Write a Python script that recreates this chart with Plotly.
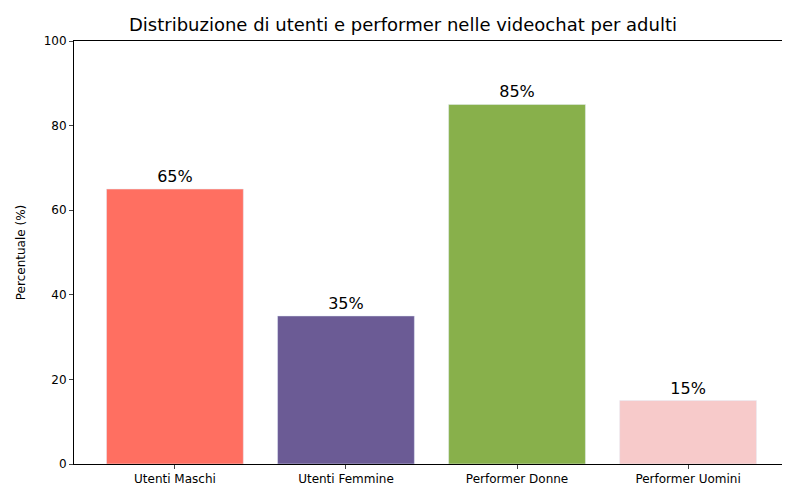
import plotly.graph_objects as go

categories = ["Utenti Maschi", "Utenti Femmine", "Performer Donne", "Performer Uomini"]
values = [65, 35, 85, 15]
colors = ["#FF6F61", "#6B5B95", "#88B04B", "#F7CACA"]

fig = go.Figure(go.Bar(
    x=list(range(len(categories))), y=values, marker_color=colors, width=0.8,
    text=[f"{v}%" for v in values], textposition="outside",
    textfont=dict(size=16, color="black"), cliponaxis=False))
fig.update_layout(
    width=790, height=490, plot_bgcolor="white", paper_bgcolor="white",
    margin=dict(l=66, r=9, t=33, b=34),
    font=dict(family="DejaVu Sans", color="black", size=12),
    title=dict(text="Distribuzione di utenti e performer nelle videochat per adulti",
               x=0.5, xanchor="center", y=0.965, yanchor="middle", font=dict(size=18)),
    showlegend=False)
fig.update_xaxes(range=[-0.59, 3.59], tickvals=list(range(4)), ticktext=categories,
                 showline=True, linecolor="black", mirror=True, ticks="outside",
                 ticklen=4, showgrid=False)
fig.update_yaxes(range=[0, 100], dtick=20, showline=True, linecolor="black", mirror=True,
                 ticks="outside", ticklen=4, showgrid=False, zeroline=False,
                 title=dict(text="Percentuale (%)", font=dict(size=12)))
fig.write_html("out.html")
